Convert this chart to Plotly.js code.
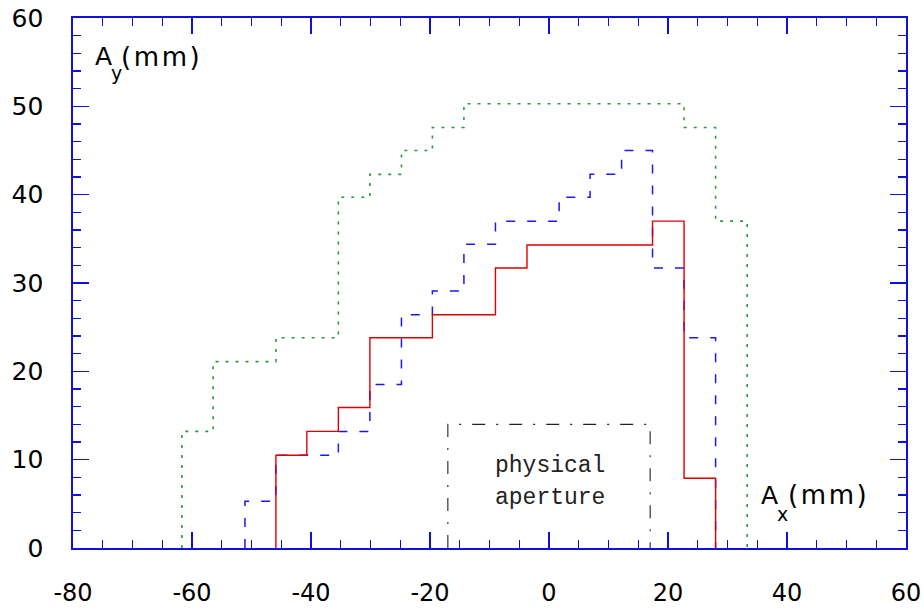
<!DOCTYPE html>
<html>
<head>
<meta charset="utf-8">
<script src="https://cdn.plot.ly/plotly-3.0.1.min.js"></script>
<style>html,body{margin:0;padding:0;background:#fff;}</style>
</head>
<body>
<div id="chart" style="width:923px;height:609px;"></div>
<script>
// Step-histogram bin edges (mm) and levels (mm)
var solidEdges  = [-45.9, -40.7, -35.4, -30.1, -19.6, -9.0, -3.7, 17.4, 22.7, 28.0];
var solidLevels = [10.5, 13.2, 15.9, 23.8, 26.4, 31.7, 34.3, 37.0, 7.9];

var dashEdges  = [-51.1, -45.9, -35.4, -30.1, -24.8, -19.6, -14.3, -9.0, 1.7, 6.9, 12.2, 17.4, 22.7, 28.0];
var dashLevels = [5.3, 10.5, 13.2, 18.5, 26.4, 29.1, 34.4, 37.0, 39.7, 42.3, 45.0, 31.7, 23.8];

var dotEdges  = [-61.7, -56.45, -45.9, -35.4, -30.1, -24.8, -19.6, -14.3, 22.7, 28.0, 33.3];
var dotLevels = [13.2, 21.1, 23.8, 39.7, 42.3, 45.0, 47.6, 50.3, 47.6, 37.0];

// physical aperture outline
var apertureX = [-17.0, -17.0, 17.0, 17.0];
var apertureY = [0, 14.0, 14.0, 0];

var xTickVals = [-80, -60, -40, -20, 0, 20, 40, 60];
var yTickVals = [0, 10, 20, 30, 40, 50, 60];

function stepXY(edges, levels) {
  var x = [edges[0]].concat(edges);
  var y = [0].concat(levels).concat([0]);
  return {x: x, y: y};
}

var s = stepXY(solidEdges, solidLevels);
var d = stepXY(dashEdges, dashLevels);
var g = stepXY(dotEdges, dotLevels);

var traces = [
  {x: g.x, y: g.y, mode: 'lines', line: {shape: 'hv', color: '#2a9a3a', width: 1.6, dash: '3px,7px'}, hoverinfo: 'skip'},
  {x: d.x, y: d.y, mode: 'lines', line: {shape: 'hv', color: '#1a1aee', width: 1.5, dash: '9px,12px'}, hoverinfo: 'skip'},
  {x: apertureX, y: apertureY, mode: 'lines', line: {color: '#222', width: 1.1, dash: '13px,11px,2px,11px'}, hoverinfo: 'skip'},
  {x: s.x, y: s.y, mode: 'lines', line: {shape: 'hv', color: '#e00000', width: 1.4}, hoverinfo: 'skip'}
];

var axisBlue = '#1010dd';
var sans = 'DejaVu Sans, Liberation Sans, Arial, sans-serif';
var unitText = '(\u200Am\u200Am\u200A)';

var layout = {
  width: 923, height: 609,
  margin: {l: 73, r: 17, t: 18, b: 61, pad: 0},
  paper_bgcolor: '#fff', plot_bgcolor: '#fff',
  showlegend: false,
  xaxis: {
    range: [-80, 60], tickvals: xTickVals, ticktext: xTickVals.map(String),
    ticks: 'inside', ticklen: 16, tickwidth: 1.2, tickcolor: axisBlue,
    minor: {dtick: 5, tick0: 0, ticks: 'inside', ticklen: 8, tickwidth: 1.2, tickcolor: axisBlue, showgrid: false},
    showline: true, linecolor: axisBlue, linewidth: 1.6, mirror: 'allticks',
    showgrid: false, zeroline: false,
    tickfont: {family: sans, size: 24, color: '#000'}, ticklabelstandoff: 23
  },
  yaxis: {
    range: [0, 60], tickvals: yTickVals, ticktext: yTickVals.map(String),
    ticks: 'inside', ticklen: 16, tickwidth: 1.2, tickcolor: axisBlue,
    minor: {dtick: 2, tick0: 0, ticks: 'inside', ticklen: 8, tickwidth: 1.2, tickcolor: axisBlue, showgrid: false},
    showline: true, linecolor: axisBlue, linewidth: 1.6, mirror: 'allticks',
    showgrid: false, zeroline: false,
    tickfont: {family: sans, size: 25, color: '#000'}, ticklabelstandoff: 23
  },
  annotations: [
    {xref: 'x', yref: 'y', x: -76.7, y: 55.6, xanchor: 'left', yanchor: 'middle', showarrow: false,
     text: 'A', font: {family: sans, size: 25, color: '#000'}},
    {xref: 'x', yref: 'y', x: -73.9, y: 53.8, xanchor: 'left', yanchor: 'middle', showarrow: false,
     text: 'y', font: {family: sans, size: 19, color: '#000'}},
    {xref: 'x', yref: 'y', x: -72.3, y: 55.6, xanchor: 'left', yanchor: 'middle', showarrow: false,
     text: unitText, font: {family: sans, size: 26, color: '#000'}},
    {xref: 'x', yref: 'y', x: 35.3, y: 6.0, xanchor: 'left', yanchor: 'middle', showarrow: false,
     text: 'A', font: {family: sans, size: 25, color: '#000'}},
    {xref: 'x', yref: 'y', x: 37.9, y: 3.9, xanchor: 'left', yanchor: 'middle', showarrow: false,
     text: 'x', font: {family: sans, size: 19, color: '#000'}},
    {xref: 'x', yref: 'y', x: 39.8, y: 6.0, xanchor: 'left', yanchor: 'middle', showarrow: false,
     text: unitText, font: {family: sans, size: 26, color: '#000'}},
    {xref: 'x', yref: 'y', x: 0.2, y: 9.3, xanchor: 'center', yanchor: 'middle', showarrow: false,
     text: 'physical', font: {family: 'Liberation Mono, Courier New, monospace', size: 23, color: '#222'}},
    {xref: 'x', yref: 'y', x: 0.2, y: 5.7, xanchor: 'center', yanchor: 'middle', showarrow: false,
     text: 'aperture', font: {family: 'Liberation Mono, Courier New, monospace', size: 23, color: '#222'}}
  ]
};

Plotly.newPlot('chart', traces, layout, {staticPlot: true, displayModeBar: false});
</script>
</body>
</html>
